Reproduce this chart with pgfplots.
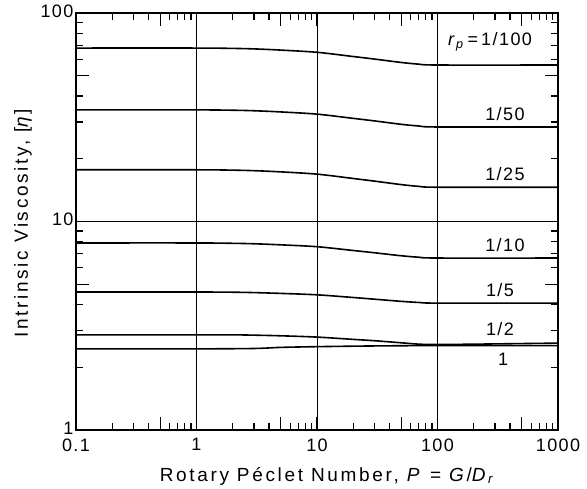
\documentclass[border=0pt]{standalone}
\usepackage{fontspec}
\setmainfont{Liberation Sans}[LetterSpace=8]
\newfontfamily\labfont{Liberation Sans}[LetterSpace=14]
\usepackage{pgfplots}
\pgfplotsset{compat=1.18}
\newcommand{\lf}{\fontsize{18}{20}\selectfont}
\newcommand{\af}{\labfont\fontsize{19}{21}\selectfont}
\begin{document}
\begin{tikzpicture}
\begin{axis}[name=ax, at={(0,0)}, anchor=south west,
  scale only axis, width=482pt, height=417pt,
  xmode=log, ymode=log, xmin=0.1, xmax=1000, ymin=1, ymax=100,
  xtick={0.1,1,10,100,1000}, xticklabels={0.1,1,10,100,1000},
  ytick={1,10,100}, yticklabels={1,10,100},
  minor xtick={0.2,0.3,0.4,0.6,0.7,0.8,0.9,2,3,4,6,7,8,9,20,30,40,60,70,80,90,200,300,400,600,700,800,900},
  minor ytick={2,3,4,6,7,8,9,20,30,40,60,70,80,90},
  tick label style={font=\lf},
  xticklabel style={yshift=-5pt},
  yticklabel style={yshift=2pt, xshift=1pt},
  label style={font=\af},
  major tick length=13pt, minor tick length=7pt,
  tick align=inside,
  every tick/.style={black, line width=1.2pt},
  extra x ticks={0.5,5,50,500}, extra x tick labels={},
  extra y ticks={5,50}, extra y tick labels={},
  axis line style={line width=1.6pt},
  xlabel={Rotary P\'eclet Number, \textit{P} = \textit{G}/\textit{D}\textsubscript{\textit{r}}},
  ylabel={Intrinsic Viscosity, [\textit{η}]},
  xlabel style={at={(axis description cs:0.522,0)}, yshift=-46pt, anchor=center},
  ylabel style={at={(axis description cs:-0.11,0.496)}, anchor=center},
]
% grid lines at the decades
\draw[black, line width=0.8pt] (axis cs:1,1) -- (axis cs:1,100);
\draw[black, line width=0.8pt] (axis cs:10,1) -- (axis cs:10,100);
\draw[black, line width=0.8pt] (axis cs:100,1) -- (axis cs:100,100);
\draw[black, line width=0.8pt] (axis cs:0.1,10) -- (axis cs:1000,10);
% inward tick marks
\pgfplotsinvokeforeach{0.2,0.3,0.4,0.6,0.7,0.8,0.9,2,3,4,6,7,8,9,20,30,40,60,70,80,90,200,300,400,600,700,800,900}{
  \draw[black, line width=1.2pt] (axis cs:#1,1) -- ++(0pt,7pt);
  \draw[black, line width=1.2pt] (axis cs:#1,100) -- ++(0pt,-7pt);
}
\pgfplotsinvokeforeach{0.5,5,50,500}{
  \draw[black, line width=1.2pt] (axis cs:#1,1) -- ++(0pt,13pt);
  \draw[black, line width=1.2pt] (axis cs:#1,100) -- ++(0pt,-13pt);
}
\pgfplotsinvokeforeach{2,3,4,6,7,8,9,20,30,40,60,70,80,90}{
  \draw[black, line width=1.2pt] (axis cs:0.1,#1) -- ++(7pt,0pt);
  \draw[black, line width=1.2pt] (axis cs:1000,#1) -- ++(-7pt,0pt);
}
\pgfplotsinvokeforeach{5,50}{
  \draw[black, line width=1.2pt] (axis cs:0.1,#1) -- ++(13pt,0pt);
  \draw[black, line width=1.2pt] (axis cs:1000,#1) -- ++(-13pt,0pt);
}
% r_p = 1/100
\addplot[black, line width=1.6pt, smooth, no markers] coordinates {(0.1,67.9) (1,67.9) (2,67.65) (3,67.27) (5,66.39) (10,64.79) (20,61.83) (30,60.12) (50,57.91) (70,56.83) (100,56.3) (1000,56.3)};
% 1/50
\addplot[black, line width=1.6pt, smooth, no markers] coordinates {(0.1,34.3) (1,34.3) (2,34.17) (3,33.98) (5,33.54) (10,32.73) (20,31.23) (30,30.37) (50,29.25) (70,28.71) (100,28.4) (1000,28.4)};
% 1/25
\addplot[black, line width=1.6pt, smooth, no markers] coordinates {(0.1,17.7) (1,17.7) (2,17.63) (3,17.53) (5,17.30) (10,16.87) (20,16.08) (30,15.62) (50,15.03) (70,14.74) (100,14.6) (1000,14.6)};
% 1/10
\addplot[black, line width=1.6pt, smooth, no markers] coordinates {(0.1,7.89) (1,7.89) (2,7.86) (3,7.82) (5,7.73) (10,7.57) (20,7.26) (30,7.08) (50,6.85) (70,6.74) (100,6.68) (1000,6.68)};
% 1/5
\addplot[black, line width=1.6pt, smooth, no markers] coordinates {(0.1,4.59) (1,4.59) (2,4.58) (3,4.56) (5,4.52) (10,4.45) (20,4.32) (30,4.24) (50,4.14) (70,4.09) (100,4.06) (1000,4.06)};
% 1/2
\addplot[black, line width=1.6pt, smooth, no markers] coordinates {(0.1,2.86) (1,2.86) (2,2.86) (3,2.85) (5,2.83) (10,2.79) (20,2.72) (30,2.68) (50,2.62) (70,2.58) (100,2.57) (200,2.58) (1000,2.61)};
% 1
\addplot[black, line width=1.6pt, smooth, no markers] coordinates {(0.1,2.45) (1,2.45) (3,2.46) (5,2.49) (10,2.51) (30,2.53) (100,2.54) (1000,2.54)};
\node[font=\lf] at (axis cs:273,72.6) {\textit{r}\textsubscript{\textit{p}}\,=\,1/100};
\node[font=\lf] at (axis cs:363,32.8) {1/50};
\node[font=\lf] at (axis cs:363,16.9) {1/25};
\node[font=\lf] at (axis cs:363,7.72) {1/10};
\node[font=\lf] at (axis cs:330,4.69) {1/5};
\node[font=\lf] at (axis cs:330,3.05) {1/2};
\node[font=\lf] at (axis cs:350,2.19) {1};
\end{axis}
\pgfresetboundingbox
\path ([shift={(-76pt,-59pt)}]ax.south west) rectangle ([shift={(29pt,13pt)}]ax.north east);
\end{tikzpicture}
\end{document}
